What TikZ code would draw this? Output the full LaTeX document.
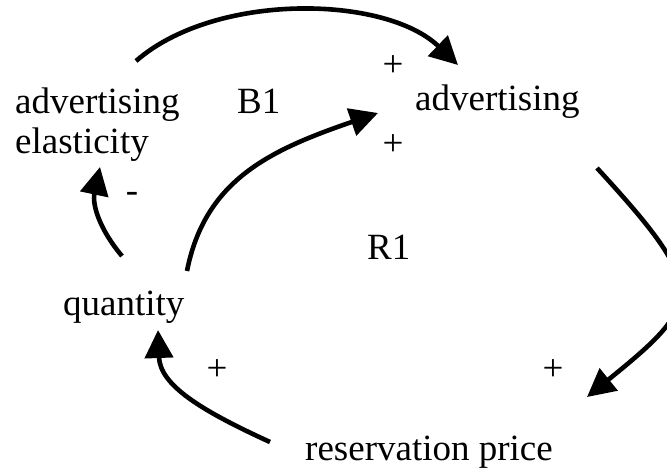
\documentclass[tikz,border=0pt]{standalone}
\usepackage{fontspec}
\setmainfont{Liberation Serif}
\usetikzlibrary{arrows.meta}
\definecolor{cldink}{HTML}{000000}

\begin{document}
\begin{tikzpicture}[x=1pt,y=-1pt,
  lbl/.style={inner sep=0pt,anchor=base west,text=cldink,font=\fontsize{37}{40}\selectfont},
  sgn/.style={inner sep=0pt,text=cldink,font=\fontsize{37}{40}\selectfont},
  link/.style={cldink,line width=4.6pt,-{Triangle[length=28pt,width=28pt]}}]
  \clip (0,0) rectangle (667,474);
  \node[lbl,align=left] (ela) at (15,153) {advertising\\elasticity};
  \node[lbl] (adv) at (415,110) {advertising};
  \node[lbl] (qty) at (63,315) {quantity};
  \node[lbl] (res) at (305,460) {reservation price};
  \node[lbl] (b1) at (237,113) {B1};
  \node[lbl] (r1) at (367,259) {R1};
  \foreach \x/\y [count=\i] in {393/66,393/145,217/370,553/370}{\node[sgn] (pl\i) at (\x,\y) {+};}
  \node[sgn] (mn) at (132,197) {-};
  \draw[link] ([shift={(121,-92)}]ela.base west) .. controls +(79,-69) and +(-73,-70) .. ([shift={(43,-45)}]adv.base west);
  \draw[link] ([shift={(124,-44)}]qty.base west) .. controls +(18,-91) and +(-108,37) .. ([shift={(-37,3)}]adv.base west);
  \draw[link] ([shift={(59,-59)}]qty.base west) .. controls +(-22,-26) and +(-8,38) .. ([shift={(85,14)}]ela.base west);
  \draw[link] ([shift={(182,58)}]adv.base west) .. controls +(112,122) and +(116,-94) .. ([shift={(282,-63)}]res.base west);
  \draw[link] ([shift={(-35,-18)}]res.base west) .. controls +(-70,-32) and +(2,55) .. ([shift={(95,15)}]qty.base west);
\end{tikzpicture}
\end{document}
